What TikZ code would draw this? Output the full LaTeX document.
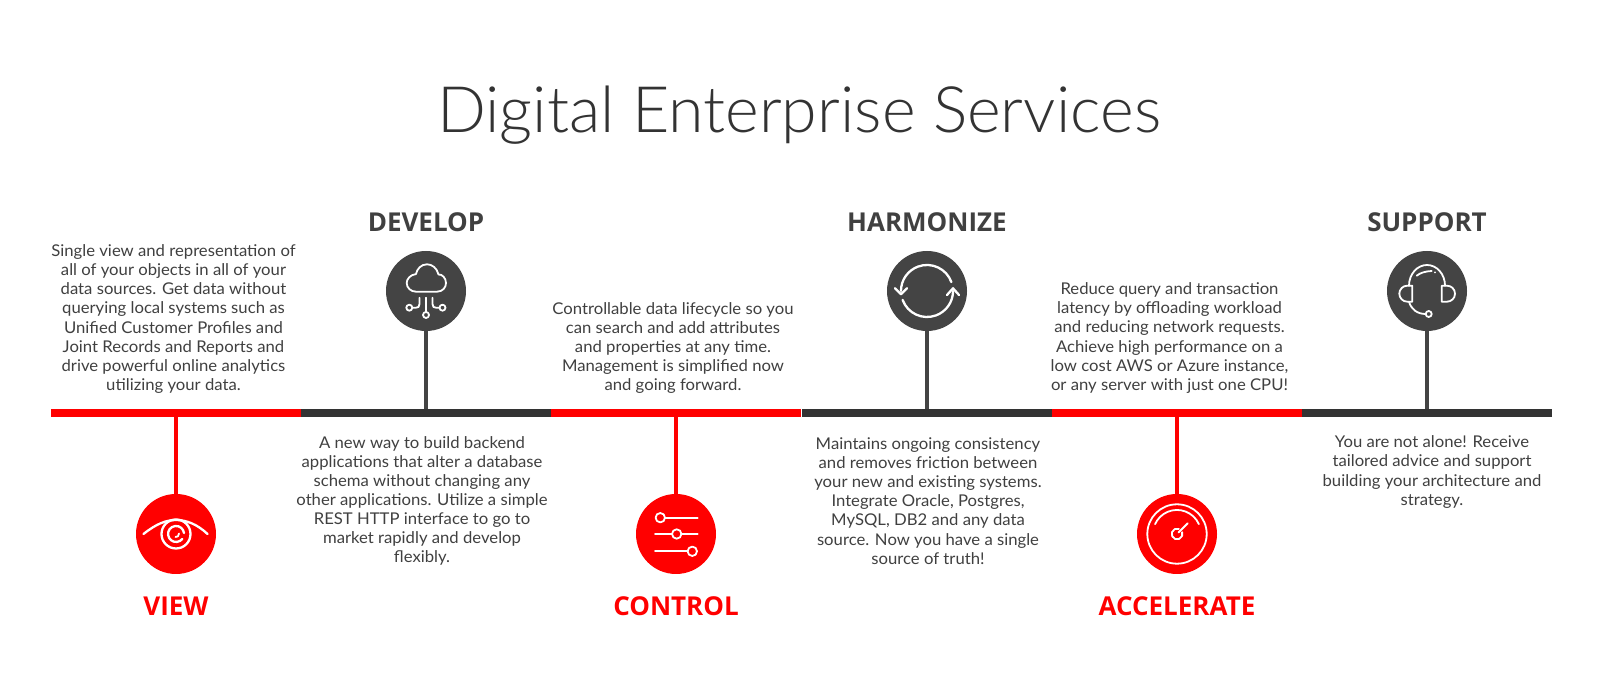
\documentclass[tikz,border=0pt]{standalone}
\usepackage{fontspec}
\setmainfont{Lato}
\newfontfamily\titlef[FakeStretch=1.007]{Lato Light}
\newfontfamily\headf{Open Sans}
\newfontfamily\bodyf[FakeStretch=1.03]{Lato}
\definecolor{redc}{HTML}{FF0000}
\definecolor{barc}{HTML}{333333}
\definecolor{discc}{HTML}{444444}
\definecolor{textc}{HTML}{404040}
\tikzset{
  x=1pt,y=1pt,
  seg/.style={rectangle,inner sep=0pt,minimum width=250pt,minimum height=8pt,fill=#1,draw=none},
  disc/.style={circle,inner sep=0pt,minimum size=80pt,fill=#1,draw=none},
  stem/.style={line width=4pt,draw=#1},
  para/.style={align=center,inner sep=0pt,text=textc,font=\bodyf\fontsize{16.2}{19.1}\selectfont},
  head/.style={anchor=base,inner sep=0pt,text=#1,font=\headf\bfseries\fontsize{26}{30}\selectfont},
  icon/.style={draw=white,line width=1.8pt,fill=none,line cap=round,line join=round},
  iconb/.style={icon,line width=2.3pt},
}
\begin{document}
\begin{tikzpicture}
\useasboundingbox (0,0) rectangle (1600,700);
\fill[white] (0,0) rectangle (1600,700);
\node[anchor=base,inner sep=0pt,text=barc,font=\titlef\fontsize{64}{76}\selectfont] (title) at (799,567) {Digital Enterprise Services};
% bar
\node[seg=redc] (s1) at (176,287) {};
\node[seg=barc] (s2) at (426,287) {};
\node[seg=redc] (s3) at (676,287) {};
\node[seg=barc] (s4) at (927,287) {};
\node[seg=redc] (s5) at (1177,287) {};
\node[seg=barc] (s6) at (1427,287) {};
% discs
\node[disc=redc] (d1) at (176,166) {};
\node[disc=discc] (d2) at (426,409) {};
\node[disc=redc] (d3) at (676,166) {};
\node[disc=discc] (d4) at (927,409) {};
\node[disc=redc] (d5) at (1177,166) {};
\node[disc=discc] (d6) at (1427,409) {};
% stems
\draw[stem=redc] (s1.south) -- (d1.north);
\draw[stem=discc] (s2.north) -- (d2.south);
\draw[stem=redc] (s3.south) -- (d3.north);
\draw[stem=discc] (s4.north) -- (d4.south);
\draw[stem=redc] (s5.south) -- (d5.north);
\draw[stem=discc] (s6.north) -- (d6.south);
% headers
\node[head=textc] (h2) at (426,468.5) {DEVELOP};
\node[head=textc] (h4) at (927,468.5) {HARMONIZE};
\node[head=textc] (h6) at (1427,468.5) {SUPPORT};
\node[head=redc] (h1) at (176,84.5) {VIEW};
\node[head=redc] (h3) at (676,84.5) {CONTROL};
\node[head=redc] (h5) at (1177,84.5) {ACCELERATE};
% paragraphs
\node[para] (p1) at (173.5,381) {Single view and representation of\\all of your objects in all of your\\data sources. Get data without\\querying local systems such as\\Unified Customer Profiles and\\Joint Records and Reports and\\drive powerful online analytics\\utilizing your data.};
\node[para] (p2) at (422,199) {A new way to build backend\\applications that alter a database\\schema without changing any\\other applications. Utilize a simple\\REST HTTP interface to go to\\market rapidly and develop\\flexibly.};
\node[para] (p3) at (673,352) {Controllable data lifecycle so you\\can search and add attributes\\and properties at any time.\\Management is simplified now\\and going forward.};
\node[para] (p4) at (928,199) {Maintains ongoing consistency\\and removes friction between\\your new and existing systems.\\Integrate Oracle, Postgres,\\MySQL, DB2 and any data\\source. Now you have a single\\source of truth!};
\node[para] (p5) at (1169.5,362) {Reduce query and transaction\\latency by offloading workload\\and reducing network requests.\\Achieve high performance on a\\low cost AWS or Azure instance,\\or any server with just one CPU!};
\node[para] (p6) at (1432,228) {You are not alone! Receive\\tailored advice and support\\building your architecture and\\strategy.};
% eye
\begin{scope}[shift={(d1.center)}]
\draw[iconb] (-32.5,0) .. controls (-20,10) and (-10,14) .. (0,14) .. controls (10,14) and (21,10) .. (31.5,0);
\draw[iconb] (0,0) circle[radius=14.5];
\draw[iconb] (8,1) arc[start angle=7,end angle=322,radius=8];
\draw[icon] (3,0.5) arc[start angle=10,end angle=-100,radius=3];
\end{scope}
% cloud
\begin{scope}[shift={(d2.center)}]
\draw[icon] (-10,-0.7) -- (11,-0.7) .. controls (17,-0.7) and (20,4) .. (20,8) .. controls (20,13) and (16,17) .. (12.5,16.5) .. controls (11,23) and (6,26.7) .. (1,26.7) .. controls (-5,26.7) and (-9,22) .. (-10,17) .. controls (-16,16) and (-19.3,12) .. (-19.3,8) .. controls (-19.3,3) and (-15,-0.7) .. (-10,-0.7) -- cycle;
\draw[icon] (0,-6.7) -- (0,-21);
\draw[icon] (0,-24) circle[radius=3];
\draw[icon] (-6.5,-6.7) -- (-6.5,-13) .. controls (-6.5,-16) and (-8,-16.7) .. (-10,-16.7) -- (-13.5,-16.7);
\draw[icon] (-16.7,-16.7) circle[radius=3];
\draw[icon] (6.5,-6.7) -- (6.5,-13) .. controls (6.5,-16) and (8,-16.7) .. (10,-16.7) -- (13.3,-16.7);
\draw[icon] (16.5,-16.7) circle[radius=3];
\end{scope}
% sliders
\begin{scope}[shift={(d3.center)}]
\draw[icon] (-11,16.3) -- (21.7,16.3);
\draw[icon] (-15.7,16.3) circle[radius=4.7];
\draw[icon] (-21,0) -- (-4,0);
\draw[icon] (5.4,0) -- (21.7,0);
\draw[icon] (0.7,0) circle[radius=4.7];
\draw[icon] (-21,-17.3) -- (11.6,-17.3);
\draw[icon] (16.3,-17.3) circle[radius=4.7];
\end{scope}
% sync
\begin{scope}[shift={(d4.center)}]
\draw[iconb] (24.4,8.9) arc[start angle=20,end angle=180,radius=26];
\draw[iconb] (-32,2.7) -- (-26,-3.3) -- (-20,2.7);
\draw[iconb] (-24.4,-8.9) arc[start angle=200,end angle=360,radius=26];
\draw[iconb] (20,-4) -- (26,2.7) -- (32,-4);
\end{scope}
% gauge
\begin{scope}[shift={(d5.center)}]
\draw[icon] (0,0) circle[radius=29.7];
\draw[icon] (21.9,9.8) arc[start angle=24,end angle=156,radius=24];
\draw[icon] (1.9,5.1) arc[start angle=70,end angle=380,radius=5.4];
\draw[icon] (1.5,1.5) -- (10.7,10.7);
\end{scope}
% headset
\begin{scope}[shift={(d6.center)}]
\draw[icon] (-14.7,5.3) -- (-19.7,5.3) arc[start angle=90,end angle=270,radius=8] -- (-14.7,-10.7) -- cycle;
\draw[icon] (14.7,5.3) -- (20,5.3) arc[start angle=90,end angle=-90,radius=8] -- (14.7,-10.7) -- cycle;
\draw[icon] (-18,5.3) arc[start angle=180,end angle=0,x radius=18,y radius=20.7];
\draw[icon] (-10.3,15.3) .. controls (-7,18) and (-2,19.7) .. (4.7,20);
\fill[white] (8,18.7) circle[radius=1];
\draw[icon] (-18,-10.7) .. controls (-16,-18) and (-10,-23) .. (-1.5,-23);
\draw[icon] (1.7,-23) circle[radius=3];
\end{scope}
\end{tikzpicture}
\end{document}
